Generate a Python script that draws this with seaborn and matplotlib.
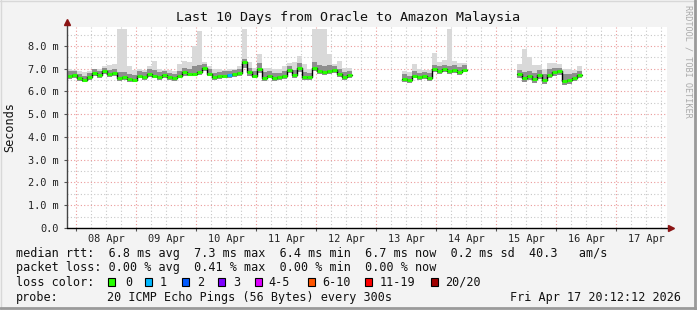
import numpy as np
import pandas as pd
import matplotlib
matplotlib.use("Agg")
import matplotlib.pyplot as plt
from matplotlib.patches import Rectangle
from matplotlib.lines import Line2D
import seaborn as sns

# ---------------- data (2-hour bins, NaN = no data) ----------------
NA = [np.nan]
med = ([6.70,6.72,6.58,6.50,6.62,6.82,6.72,6.90,6.75,6.80,
        6.60,6.62,6.55,6.52,6.70,6.65,6.78,6.70,6.65,6.72,
        6.62,6.58,6.70,6.84,6.78,6.78,6.84,7.05,6.78,6.62,
        6.66,6.70,6.73,6.76,6.80,7.30,6.84,6.70,7.00,6.60,
        6.70,6.58,6.62,6.68,6.95,6.72,7.02,6.62,6.62,7.05,
        6.90,6.87,6.92,6.95,6.76,6.62,6.72] + NA*10 +
       [6.55,6.50,6.70,6.62,6.66,6.58,6.98,6.90,7.00,6.90,6.96,6.87,6.96] + NA*10 +
       [6.75,6.58,6.66,6.55,6.73,6.50,6.73,6.84,6.90,6.45,6.50,6.58,6.72] + NA*17)
hi = ([7.00,6.95,6.90,6.85,6.90,7.00,7.00,7.10,7.15,7.20,
       8.75,8.75,7.10,6.95,7.00,6.95,7.10,7.35,7.00,6.95,
       6.95,6.90,7.20,7.35,7.30,8.00,8.66,7.30,7.10,7.00,
       7.00,6.95,7.00,7.00,7.10,8.75,7.30,7.05,7.65,7.05,
       7.05,7.00,7.00,7.10,7.25,7.30,7.55,7.20,7.00,8.75,
       8.75,8.75,7.65,7.20,7.35,7.05,7.05] + NA*10 +
      [6.90,6.85,7.20,7.00,6.95,6.95,7.70,7.30,7.40,8.75,7.35,7.25,7.25] + NA*10 +
      [7.20,7.87,7.50,7.15,7.15,7.00,7.25,7.25,7.20,7.00,7.00,6.95,7.10] + NA*17)
up = ([6.92,6.90,6.78,6.70,6.80,6.98,6.92,7.05,6.95,7.00,
       6.85,6.85,6.75,6.72,6.88,6.85,6.98,6.95,6.85,6.90,
       6.82,6.78,6.92,7.05,7.00,7.10,7.15,7.20,6.98,6.82,
       6.85,6.88,6.90,6.95,7.00,7.45,7.05,6.90,7.25,6.85,
       6.90,6.80,6.82,6.92,7.12,6.95,7.25,6.85,6.82,7.30,
       7.15,7.10,7.15,7.12,6.98,6.85,6.92] + NA*10 +
      [6.75,6.70,6.90,6.82,6.85,6.80,7.15,7.10,7.18,7.10,7.15,7.08,7.15] + NA*10 +
      [6.95,6.85,6.90,6.80,6.95,6.78,6.98,7.05,7.05,6.75,6.78,6.82,6.90] + NA*17)
lo = ([6.55,6.60,6.45,6.40,6.50,6.68,6.60,6.75,6.62,6.66,
       6.48,6.50,6.42,6.40,6.58,6.52,6.65,6.58,6.52,6.60,
       6.50,6.46,6.58,6.70,6.66,6.66,6.72,6.88,6.66,6.50,
       6.54,6.58,6.60,6.64,6.66,7.05,6.70,6.58,6.82,6.48,
       6.58,6.46,6.50,6.55,6.80,6.60,6.86,6.50,6.50,6.88,
       6.76,6.74,6.78,6.80,6.62,6.50,6.60] + NA*10 +
      [6.42,6.36,6.58,6.50,6.54,6.45,6.84,6.76,6.86,6.76,6.82,6.74,6.84] + NA*10 +
      [6.58,6.40,6.50,6.38,6.56,6.34,6.58,6.68,6.74,6.30,6.35,6.44,6.60] + NA*17)
loss = [0]*120
loss[32] = 1

start = pd.Timestamp("2026-04-07 20:12:12")
end = pd.Timestamp("2026-04-17 20:12:12")
step = pd.Timedelta(hours=2)
times = pd.date_range(start, periods=len(med), freq="2h")

loss_colors = ['#26ff00', '#00b8ff', '#0059ff', '#7e00ff', '#dd00ff', '#ff5500', '#ff0000', '#a00000']
loss_labels = ['0', '1', '2', '3', '4-5', '6-10', '11-19', '20/20']

title = "Last 10 Days from Oracle to Amazon Malaysia"
ytick_vals = [0, 1, 2, 3, 4, 5, 6, 7, 8]
ytick_labels = ["0.0", "1.0 m", "2.0 m", "3.0 m", "4.0 m", "5.0 m", "6.0 m", "7.0 m", "8.0 m"]
day_labels = ["08 Apr", "09 Apr", "10 Apr", "11 Apr", "12 Apr", "13 Apr", "14 Apr", "15 Apr", "16 Apr", "17 Apr"]
rtt_line = "median rtt:  6.8 ms avg  7.3 ms max  6.4 ms min  6.7 ms now  0.2 ms sd  40.3   am/s"
loss_line = "packet loss: 0.00 % avg  0.41 % max  0.00 % min  0.00 % now"
probe_desc = "20 ICMP Echo Pings (56 Bytes) every 300s"
stamp = "Fri Apr 17 20:12:12 2026"

df = pd.DataFrame({"t": times, "med": med, "hi": hi, "up": up, "lo": lo, "loss": loss})
df["seg"] = df["med"].isna().cumsum()
# ------------------------------------------------------------------

sns.set_theme(style="white")
plt.rcParams['font.family'] = ['DejaVu Sans Mono', 'DejaVu Sans']

W, H = 697, 310
fig = plt.figure(figsize=(W/100, H/100), dpi=100, facecolor='#f3f3f3')
ax = fig.add_axes([67/W, 82/H, 600/W, 201/H])
ax.set_facecolor('white')
for s in ax.spines.values():
    s.set_visible(False)

ax.set_xlim(start, end)
ax.set_ylim(0, 8.835)

# grid
six_h = pd.date_range("2026-04-08 00:00", end, freq="6h")
mids = pd.date_range("2026-04-08 00:00", end, freq="1D")
noons = pd.date_range("2026-04-08 12:00", end, freq="1D")
gridls = (0, (1, 2))
for t in six_h:
    if t not in mids:
        ax.axvline(t, color='#c8c8c8', lw=0.8, ls=gridls, zorder=0)
for v in np.arange(0.5, 8.8, 1.0):
    ax.axhline(v, color='#c8c8c8', lw=0.8, ls=gridls, zorder=0)
for t in mids:
    ax.axvline(t, color='#eb9a9a', lw=0.8, ls=gridls, zorder=0.5)
for v in ytick_vals[1:]:
    ax.axhline(v, color='#eb9a9a', lw=0.8, ls=gridls, zorder=0.5)

# smoke
valid = ~df["med"].isna()
d = df[valid]
ax.bar(d["t"], d["hi"] - d["lo"], bottom=d["lo"], width=step, align='edge',
       color='#d9d9d9', linewidth=0, zorder=1)
ax.bar(d["t"], d["up"] - d["lo"], bottom=d["lo"], width=step, align='edge',
       color='#8e8e8e', linewidth=0, zorder=1.1)

# median: black step line per segment, coloured (loss) horizontal marks
rows = []
for seg, g in d.groupby("seg"):
    for _, r in g.iterrows():
        rows.append({"t": r["t"], "med": r["med"], "seg": seg})
    last = g.iloc[-1]
    rows.append({"t": last["t"] + step, "med": last["med"], "seg": seg})
ld = pd.DataFrame(rows)
sns.lineplot(data=ld, x="t", y="med", units="seg", estimator=None, drawstyle='steps-post',
             color='black', lw=1.0, ax=ax, zorder=2, legend=False)
ax.hlines(d["med"], d["t"], d["t"] + step,
          colors=[loss_colors[int(l)] for l in d["loss"]], lw=2.2, zorder=3)

# ticks
ax.set_yticks(ytick_vals)
ax.set_yticklabels(ytick_labels)
ax.set_xticks(mids)
ax.set_xticklabels([])
ax.set_xticks(noons, minor=True)
ax.set_xticklabels(day_labels, minor=True)
ax.tick_params(axis='y', length=2, width=0.8, color='#555555', pad=4, labelsize=7.4, labelcolor='#222222', left=True)
ax.tick_params(axis='x', which='major', length=2, width=0.8, color='#555555', bottom=True)
ax.tick_params(axis='x', which='minor', length=0, pad=4, labelsize=7.4, labelcolor='#222222')
ax.set_xlabel("")
ax.set_ylabel("")

# axes lines with arrows
ax.plot([0, 0], [0, 1.025], transform=ax.transAxes, color='#444444', lw=1, clip_on=False, zorder=5)
ax.plot([0, 1.005], [0, 0], transform=ax.transAxes, color='black', lw=1, clip_on=False, zorder=5)
ax.plot([0], [1.025], transform=ax.transAxes, marker='^', color='#8b1414', ms=4.5, clip_on=False, zorder=6)
ax.plot([1.006], [0], transform=ax.transAxes, marker='>', color='#8b1414', ms=4.5, clip_on=False, zorder=6)

# texts
fs = 8.5
def ftxt(x, y, s, **kw):
    fig.text(x / W, 1 - y / H, s, **kw)

ftxt(348, 18, title, ha='center', va='center', fontsize=9.6, color='#111111')
ftxt(10, 127, "Seconds", ha='center', va='center', rotation=90, fontsize=8.6, color='#111111')
ftxt(688, 5, "RRDTOOL / TOBI OETIKER", ha='center', va='top', rotation=270, fontsize=6.1, color='#aaaaaa')

ftxt(16, 254, rtt_line, ha='left', va='center', fontsize=fs, color='#111111')
ftxt(16, 268, loss_line, ha='left', va='center', fontsize=fs, color='#111111')
ftxt(16, 282, "loss color:", ha='left', va='center', fontsize=fs, color='#111111')
ftxt(16, 297, "probe:", ha='left', va='center', fontsize=fs, color='#111111')
ftxt(107, 297, probe_desc, ha='left', va='center', fontsize=fs, color='#111111')
ftxt(681, 297, stamp, ha='right', va='center', fontsize=fs, color='#111111')

sq_x = [108, 145, 182, 218, 255, 308, 365, 431]
tx_x = [125, 160, 197, 233, 268, 322, 380, 445]
for c, lab, sx, tx in zip(loss_colors, loss_labels, sq_x, tx_x):
    fig.add_artist(Rectangle((sx / W, 1 - 286 / H), 7 / W, 8 / H, transform=fig.transFigure,
                             facecolor=c, edgecolor='black', lw=0.8))
    ftxt(tx, 282, lab, ha='left', va='center', fontsize=fs, color='#111111')

# frame
fig.add_artist(Line2D([0, 1], [1 - 0.5/H, 1 - 0.5/H], transform=fig.transFigure, color='#d8d8d8', lw=1))
fig.add_artist(Line2D([0.5/W, 0.5/W], [0, 1], transform=fig.transFigure, color='#d8d8d8', lw=1))
fig.add_artist(Line2D([0, 1], [2/H, 2/H], transform=fig.transFigure, color='#9a9a9a', lw=2))
fig.add_artist(Line2D([1 - 2/W, 1 - 2/W], [0, 1], transform=fig.transFigure, color='#9a9a9a', lw=2))

fig.savefig("out.png", dpi=100, facecolor=fig.get_facecolor())
